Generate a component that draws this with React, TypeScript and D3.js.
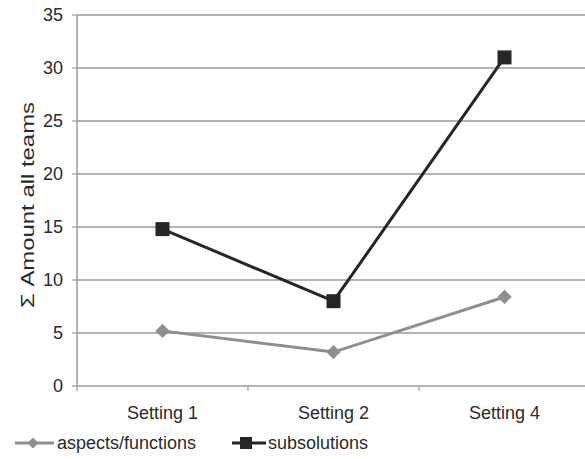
import React from "react";
import * as d3 from "d3";

const categories = ["Setting 1", "Setting 2", "Setting 4"];
const aspectsFunctions = [5.2, 3.2, 8.4];
const subsolutions = [14.8, 8.0, 31.0];
const yTicks = [0, 5, 10, 15, 20, 25, 30, 35];
const seriesNames = ["aspects/functions", "subsolutions"];

const W = 585;
const H = 459;
const left = 77;
const right = 590;
const top = 15;
const bottom = 386;

export default function App() {
  const x = d3.scaleBand<string>().domain(categories).range([left, right]);
  const y = d3.scaleLinear().domain([0, 35]).range([bottom, top]);
  const cx = (c: string) => (x(c) as number) + x.bandwidth() / 2;
  const line = d3
    .line<number>()
    .x((_, i) => cx(categories[i]))
    .y((d) => y(d));
  const font = "'Liberation Sans', Arial, sans-serif";
  const gray = "#8f8f8f";
  const dark = "#262626";
  const textCol = "#2a2a2a";
  const diamond = d3.symbol().type(d3.symbolDiamond2).size(130)();
  const diamondSmall = d3.symbol().type(d3.symbolDiamond2).size(80)();
  const boundaries = categories.slice(1).map((c) => x(c) as number);

  return (
    <svg
      width={W}
      height={H}
      style={{ position: "absolute", left: 0, top: 0, background: "#fff" }}
      fontFamily={font}
    >
      {yTicks.map((t) => (
        <g key={t}>
          {t > 0 && (
            <line x1={left} x2={W} y1={y(t)} y2={y(t)} stroke="#9a9a9a" strokeWidth={1.5} />
          )}
          <line x1={left - 5} x2={left} y1={y(t)} y2={y(t)} stroke="#9a9a9a" strokeWidth={1.2} />
          <text x={63} y={y(t)} dy="0.36em" textAnchor="end" fontSize={18} fill={textCol}>
            {t}
          </text>
        </g>
      ))}
      <line x1={left} x2={left} y1={top} y2={bottom} stroke="#9a9a9a" strokeWidth={1.5} />
      <line x1={left} x2={W} y1={bottom} y2={bottom} stroke="#9a9a9a" strokeWidth={1.5} />
      {[left, ...boundaries].map((b, i) => (
        <line key={i} x1={b} x2={b} y1={bottom} y2={bottom + 5} stroke="#9a9a9a" strokeWidth={1.2} />
      ))}
      {categories.map((c) => (
        <text key={c} x={cx(c)} y={419} textAnchor="middle" fontSize={18} fill={textCol}>
          {c}
        </text>
      ))}
      <text
        transform={`translate(34,205) rotate(-90)`}
        textAnchor="middle"
        fontSize={19}
        textLength={206}
        lengthAdjust="spacingAndGlyphs"
        fill={textCol}
      >
        Σ Amount all teams
      </text>
      <path d={line(aspectsFunctions) || ""} fill="none" stroke={gray} strokeWidth={3} />
      {aspectsFunctions.map((v, i) => (
        <path key={i} d={diamond || ""} transform={`translate(${cx(categories[i])},${y(v)})`} fill={gray} />
      ))}
      <path d={line(subsolutions) || ""} fill="none" stroke={dark} strokeWidth={3} />
      {subsolutions.map((v, i) => (
        <rect key={i} x={cx(categories[i]) - 7} y={y(v) - 7} width={14} height={14} fill={dark} />
      ))}
      <g>
        <line x1={15} x2={54} y1={443} y2={443} stroke={gray} strokeWidth={3} />
        <path d={diamondSmall || ""} transform="translate(33,443)" fill={gray} />
        <text x={57} y={449} fontSize={18} fill={textCol}>
          {seriesNames[0]}
        </text>
        <line x1={232} x2={266} y1={443} y2={443} stroke={dark} strokeWidth={3} />
        <rect x={240} y={437} width={12} height={12} fill={dark} />
        <text x={268} y={449} fontSize={18} fill={textCol}>
          {seriesNames[1]}
        </text>
      </g>
    </svg>
  );
}
